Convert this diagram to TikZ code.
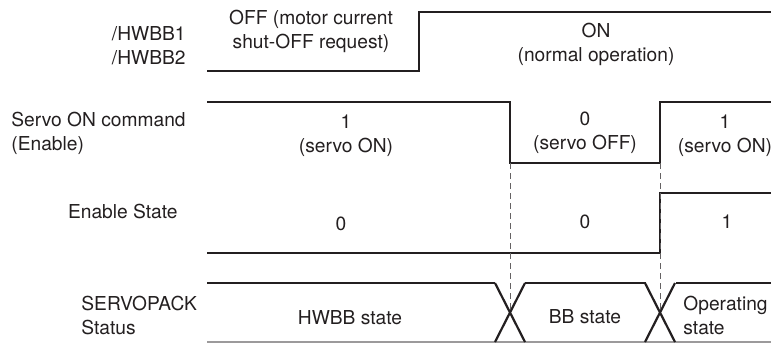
\documentclass[tikz,border=0pt]{standalone}
\usepackage{fontspec}
\setmainfont{TeX Gyre Heros}
\usepackage{tikz}
\usetikzlibrary{positioning}
\definecolor{ink}{HTML}{231F20}
\tikzset{
  wave/.style={line width=1.1pt,draw=ink},
  guide/.style={line width=0.5pt,draw=ink!70,dash pattern=on 3pt off 2pt},
  lbl/.style={font=\fontsize{9.6}{12}\selectfont,text=ink,inner sep=0pt,align=center},
  sig/.style={lbl,align=left}
}
% one crossing of the status bus, centred at x=#1
\newcommand{\buscross}[1]{
  \draw[wave] (#1-15,283) -- (#1+15,342);
  \draw[wave] (#1-15,342) -- (#1+15,283);
}

\begin{document}
\begin{tikzpicture}[x=0.5pt,y=-0.5pt]
  \useasboundingbox (0,0) rectangle (771,343);

  % signal names
  \node[sig,anchor=east,align=right] (hwbb) at (186,46) {/HWBB1\\/HWBB2};
  \node[sig,anchor=west] (son) at (11,133) {Servo ON command\\(Enable)};
  \node[sig,anchor=east] (ens) at (178,211) {Enable State};
  \node[sig,anchor=west] (stat) at (81,315) {SERVOPACK\\Status};

  % /HWBB1, /HWBB2
  \draw[wave] (207,71) -- (419,71) -- (419,12) -- (771,12);
  \node[lbl] (hwoff) at (311,31) {OFF (motor current\\shut-OFF request)};
  \node[lbl] (hwon) at (596,44) {ON\\(normal operation)};

  % Servo ON command
  \draw[wave] (207,102) -- (510,102) -- (510,163) -- (660,163) -- (660,102) -- (771,102);
  \node[lbl] (son1) at (346,136) {1\\(servo ON)};
  \node[lbl] (son0) at (585,133) {0\\(servo OFF)};
  \node[lbl] (son2) at (725,136) {1\\(servo ON)};

  % Enable State
  \draw[wave] (207,253) -- (660,253) -- (660,193) -- (771,193);
  \node[lbl] (ens0) at (341,224) {0};
  \node[lbl] (ens1) at (585,222) {0};
  \node[lbl] (ens2) at (727,222) {1};

  % SERVOPACK status
  \draw[wave] (207,283) -- (495,283);
  \draw[wave] (525,283) -- (646,283);
  \draw[wave] (676,283) -- (771,283);
  \draw[line width=0.6pt,draw=ink!45] (207,342) -- (771,342);
  \buscross{510}
  \buscross{660}
  \node[lbl] (hwst) at (350,318) {HWBB state};
  \node[lbl] (bbst) at (585,317) {BB state};
  \node[sig,anchor=west] (opst) at (683,315) {Operating\\state};

  % timing guides
  \draw[guide] (510,163) -- (510,313);
  \draw[guide] (660,163) -- (660,313);
\end{tikzpicture}
\end{document}
